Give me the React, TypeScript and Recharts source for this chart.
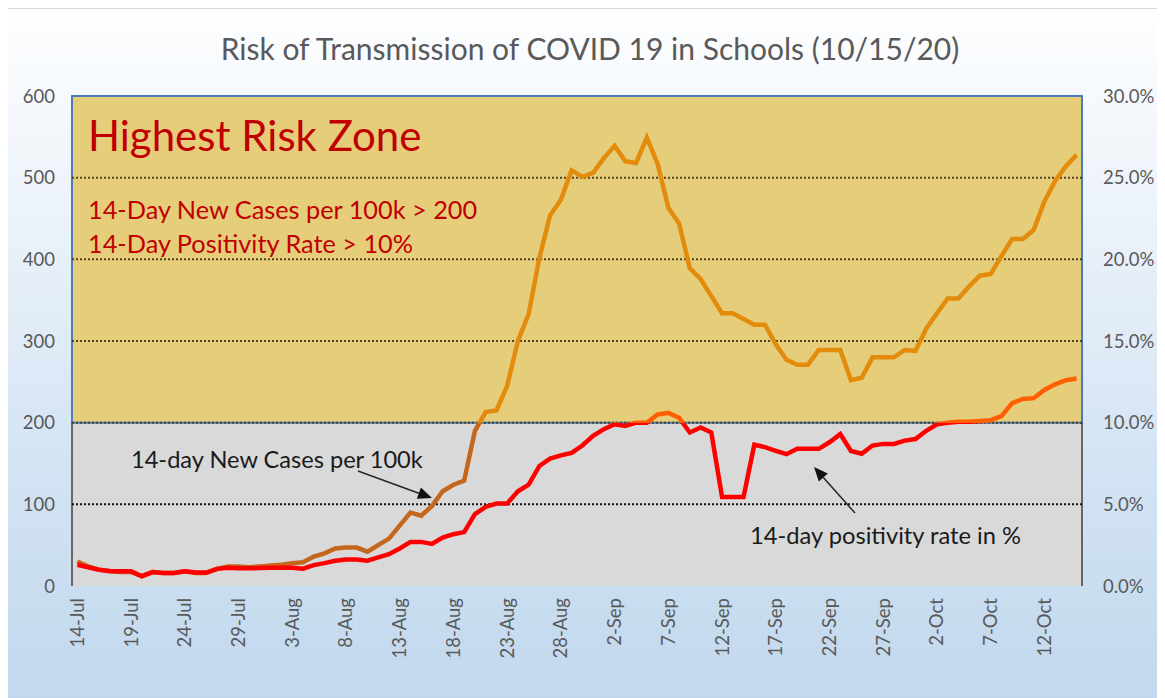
import React from 'react';
import { LineChart, Line, XAxis, YAxis, ReferenceArea, ReferenceLine } from 'recharts';

const FONT = 'Lato, "Open Sans", "DejaVu Sans", sans-serif';

const dates: string[] = [
  '14-Jul','15-Jul','16-Jul','17-Jul','18-Jul','19-Jul','20-Jul','21-Jul','22-Jul','23-Jul','24-Jul','25-Jul','26-Jul','27-Jul','28-Jul','29-Jul','30-Jul','31-Jul',
  '1-Aug','2-Aug','3-Aug','4-Aug','5-Aug','6-Aug','7-Aug','8-Aug','9-Aug','10-Aug','11-Aug','12-Aug','13-Aug','14-Aug','15-Aug','16-Aug','17-Aug','18-Aug','19-Aug','20-Aug','21-Aug','22-Aug','23-Aug','24-Aug','25-Aug','26-Aug','27-Aug','28-Aug','29-Aug','30-Aug','31-Aug',
  '1-Sep','2-Sep','3-Sep','4-Sep','5-Sep','6-Sep','7-Sep','8-Sep','9-Sep','10-Sep','11-Sep','12-Sep','13-Sep','14-Sep','15-Sep','16-Sep','17-Sep','18-Sep','19-Sep','20-Sep','21-Sep','22-Sep','23-Sep','24-Sep','25-Sep','26-Sep','27-Sep','28-Sep','29-Sep','30-Sep',
  '1-Oct','2-Oct','3-Oct','4-Oct','5-Oct','6-Oct','7-Oct','8-Oct','9-Oct','10-Oct','11-Oct','12-Oct','13-Oct','14-Oct','15-Oct',
];

const casesPer100k: number[] = [
  30, 24, 20, 18, 17, 17, 12, 17, 16, 16, 18, 16, 16, 21, 24, 24, 23, 24,
  25, 26, 28, 29, 36, 40, 46, 47, 47, 42, 50, 58, 74, 90, 86, 98, 116, 124, 129, 190, 213, 215, 245, 300, 333, 402, 454, 473, 509, 501, 506,
  524, 539, 520, 518, 549, 517, 463, 444, 389, 376, 355, 334, 334, 327, 320, 320, 296, 277, 271, 271, 289, 289, 289, 252, 255, 280, 280, 280, 289, 288,
  315, 334, 352, 352, 367, 380, 382, 404, 425, 425, 436, 471, 496, 514, 528,
];

const positivityPct: number[] = [
  1.3, 1.15, 1.0, 0.92, 0.9, 0.9, 0.6, 0.85, 0.8, 0.8, 0.9, 0.82, 0.82, 1.05, 1.12, 1.08, 1.08, 1.1,
  1.12, 1.12, 1.12, 1.06, 1.28, 1.4, 1.55, 1.62, 1.62, 1.55, 1.75, 1.95, 2.3, 2.7, 2.7, 2.58, 2.96, 3.17, 3.3, 4.4, 4.85, 5.05, 5.05, 5.8, 6.2, 7.35, 7.8, 8.0, 8.15, 8.6, 9.2,
  9.6, 9.9, 9.8, 10.0, 10.0, 10.5, 10.6, 10.3, 9.4, 9.7, 9.4, 5.45, 5.45, 5.45, 8.65, 8.5, 8.27, 8.07, 8.4, 8.4, 8.4, 8.8, 9.3, 8.27, 8.1, 8.6, 8.7, 8.7, 8.9, 9.0,
  9.5, 9.9, 10.0, 10.05, 10.05, 10.1, 10.15, 10.4, 11.2, 11.45, 11.5, 12.0, 12.35, 12.6, 12.7,
];

const xTickIdx: number[] = [0, 5, 10, 15, 20, 25, 30, 35, 40, 45, 50, 55, 60, 65, 70, 75, 80, 85, 90];
const leftTicks: number[] = [0, 100, 200, 300, 400, 500, 600];
const rightTicks: number[] = [0, 5, 10, 15, 20, 25, 30];
const riskThreshold = 200;
const gridLevels: number[] = [100, 200, 300, 400, 500];

const title = 'Risk of Transmission of COVID 19 in Schools (10/15/20)';
const zoneTitle = 'Highest Risk Zone';
const zoneRules: string[] = ['14-Day New Cases per 100k > 200', '14-Day Positivity Rate > 10%'];
const casesNote = '14-day New Cases per 100k';
const posNote = '14-day positivity rate in %';

const data = dates.map((d, i) => ({ idx: i, date: d, cases: casesPer100k[i], pos: positivityPct[i] }));

const W = 1157;
const H = 690;
const M_TOP = 87;
const X_AXIS_H = 113;
const PLOT_TOP = M_TOP;
const PLOT_BOTTOM = H - X_AXIS_H;
const THRESH_OFFSET = 1 - riskThreshold / 600;
const X_MIN = -0.5;
const X_MAX = dates.length - 0.5;

const DateTick = (props: any) => {
  const { x, y, payload } = props;
  return (
    <text
      x={x}
      y={y}
      transform={`rotate(-90, ${x}, ${y})`}
      textAnchor="end"
      dy="0.35em"
      fill="#595959"
      fontSize={18.5}
      fontFamily={FONT}
    >
      {dates[payload.value]}
    </text>
  );
};

function Arrow({ x1, y1, x2, y2 }: { x1: number; y1: number; x2: number; y2: number }) {
  const dx = x2 - x1;
  const dy = y2 - y1;
  const len = Math.sqrt(dx * dx + dy * dy);
  const ux = dx / len;
  const uy = dy / len;
  const hl = 14;
  const hw = 6;
  const bx = x2 - ux * hl;
  const by = y2 - uy * hl;
  const px = -uy;
  const py = ux;
  return (
    <g>
      <line x1={x1} y1={y1} x2={bx} y2={by} stroke="#262626" strokeWidth={1.5} />
      <polygon
        points={`${x2},${y2} ${bx + px * hw},${by + py * hw} ${bx - px * hw},${by - py * hw}`}
        fill="#111"
      />
    </g>
  );
}

export default function App() {
  return (
    <div
      style={{
        position: 'relative',
        width: W,
        height: H,
        background: 'linear-gradient(180deg, #fdfeff 0%, #edf3fa 28%, #d2e3f3 68%, #c2d8ee 100%)',
        borderTop: '1px solid #d9d9d9',
        boxSizing: 'border-box',
      }}
    >
      <svg width={0} height={0} style={{ position: 'absolute' }}>
        <defs>
          <linearGradient id="casesStroke" gradientUnits="userSpaceOnUse" x1={0} y1={PLOT_TOP} x2={0} y2={PLOT_BOTTOM}>
            <stop offset={0} stopColor="#e38b0b" />
            <stop offset={THRESH_OFFSET} stopColor="#e38b0b" />
            <stop offset={THRESH_OFFSET} stopColor="#c4661c" />
            <stop offset={1} stopColor="#c4661c" />
          </linearGradient>
          <linearGradient id="posStroke" gradientUnits="userSpaceOnUse" x1={0} y1={PLOT_TOP} x2={0} y2={PLOT_BOTTOM}>
            <stop offset={0} stopColor="#ff5f00" />
            <stop offset={THRESH_OFFSET} stopColor="#ff5f00" />
            <stop offset={THRESH_OFFSET} stopColor="#ff0000" />
            <stop offset={1} stopColor="#ff0000" />
          </linearGradient>
        </defs>
      </svg>
      <LineChart width={W} height={H} data={data} margin={{ top: M_TOP, right: 0, bottom: 0, left: 0 }}>
        <XAxis
          dataKey="idx"
          type="number"
          domain={[X_MIN, X_MAX]}
          ticks={xTickIdx}
          interval={0}
          tick={<DateTick />}
          axisLine={false}
          tickLine={false}
          tickMargin={6}
          height={X_AXIS_H}
        />
        <YAxis
          yAxisId="left"
          domain={[0, 600]}
          ticks={leftTicks}
          width={64}
          tickMargin={11}
          tickLine={false}
          axisLine={false}
          tick={{ fill: '#595959', fontSize: 18.5, fontFamily: FONT }}
        />
        <YAxis
          yAxisId="right"
          orientation="right"
          domain={[0, 30]}
          ticks={rightTicks}
          width={83}
          tickMargin={15}
          tickLine={false}
          axisLine={false}
          tickFormatter={(v: number) => `${v.toFixed(1)}%`}
          tick={{ fill: '#595959', fontSize: 18.5, fontFamily: FONT, textAnchor: 'start' }}
        />
        <ReferenceArea yAxisId="left" y1={0} y2={riskThreshold} fill="#d9d9d9" fillOpacity={1} stroke="none" />
        <ReferenceArea
          yAxisId="left"
          y1={riskThreshold}
          y2={600}
          fill="#e6cd7a"
          fillOpacity={1}
          stroke="#4a7ebb"
          strokeWidth={2}
        />
        <ReferenceLine
          yAxisId="left"
          segment={[{ x: X_MIN, y: 0 }, { x: X_MIN, y: riskThreshold }]}
          stroke="#404040"
          strokeWidth={1.5}
        />
        <ReferenceLine
          yAxisId="left"
          segment={[{ x: X_MAX, y: 0 }, { x: X_MAX, y: riskThreshold }]}
          stroke="#404040"
          strokeWidth={1.5}
        />
        {gridLevels.map((g) => (
          <ReferenceLine
            key={g}
            yAxisId="left"
            y={g}
            stroke={g >= riskThreshold ? '#4f4220' : '#111'}
            strokeWidth={2}
            strokeDasharray="2 2"
          />
        ))}
        <Line
          yAxisId="left"
          dataKey="cases"
          type="linear"
          stroke="url(#casesStroke)"
          strokeWidth={4.5}
          dot={false}
          activeDot={false}
          isAnimationActive={false}
        />
        <Line
          yAxisId="right"
          dataKey="pos"
          type="linear"
          stroke="url(#posStroke)"
          strokeWidth={4.5}
          dot={false}
          activeDot={false}
          isAnimationActive={false}
        />
      </LineChart>
      <svg
        width={W}
        height={H}
        style={{ position: 'absolute', left: 0, top: 0, pointerEvents: 'none' }}
      >
        <text x={582} y={51} textAnchor="middle" fill="#595959" fontSize={30} fontFamily={FONT}>
          {title}
        </text>
        <text x={80} y={142} fill="#c00000" fontSize={42} fontFamily={FONT}>
          {zoneTitle}
        </text>
        {zoneRules.map((r, i) => (
          <text key={r} x={80} y={210 + i * 34} fill="#c00000" fontSize={25.3} fontFamily={FONT}>
            {r}
          </text>
        ))}
        <text x={123} y={459} fill="#1a1a1a" fontSize={23.6} fontFamily={FONT}>
          {casesNote}
        </text>
        <Arrow x1={350} y1={462} x2={424} y2={489} />
        <text x={742} y={535} fill="#1a1a1a" fontSize={23.7} fontFamily={FONT}>
          {posNote}
        </text>
        <Arrow x1={847} y1={504} x2={806} y2={458} />
      </svg>
    </div>
  );
}
